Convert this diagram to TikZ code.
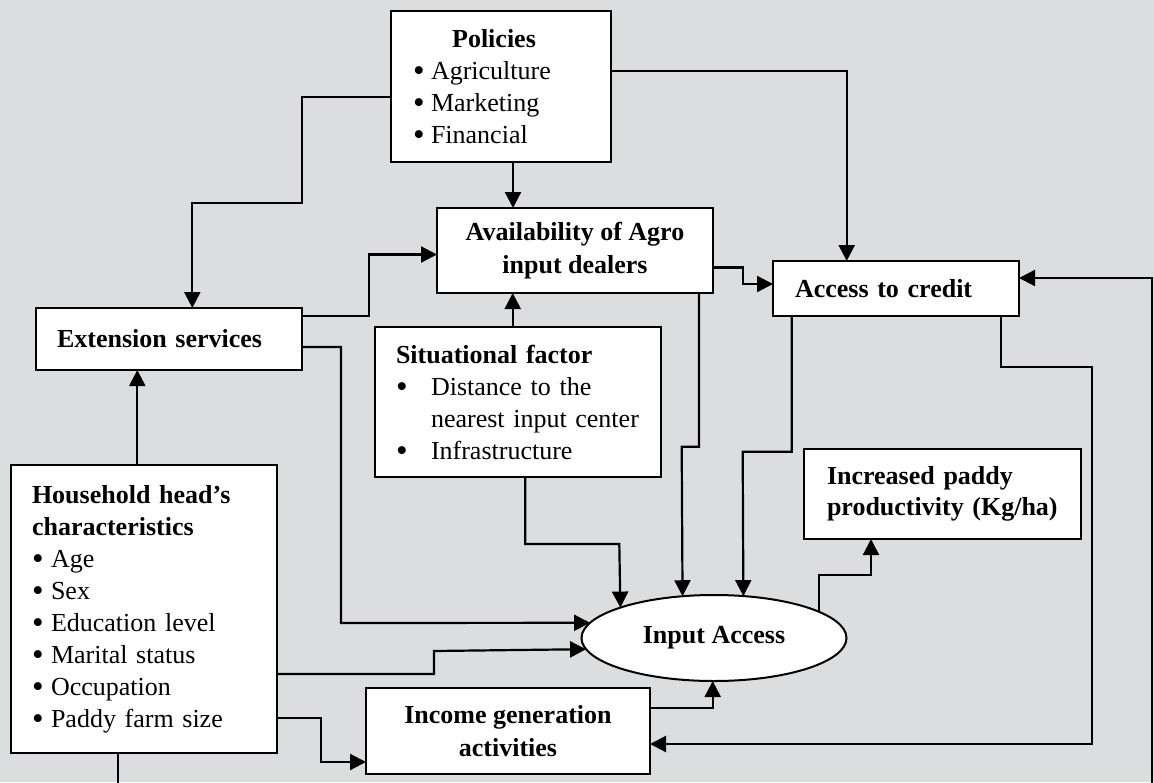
\documentclass[tikz,border=0pt]{standalone}
\usepackage{fontspec}
\setmainfont{Liberation Serif}
\usetikzlibrary{arrows.meta,shapes.geometric}
\definecolor{bg}{RGB}{220,221,223}
\newcommand{\bigbul}{\smash{\raisebox{-2.5pt}{\fontsize{33}{32}\selectfont\textbullet}}}
\tikzset{
 box/.style={draw=black, fill=white, line width=2pt, outer sep=0pt, inner ysep=0pt, font=\fontsize{26}{32}\selectfont},
 lbox/.style={box, align=left},
 cbox/.style={box, align=center, font=\fontsize{26}{33}\selectfont\bfseries},
 conn/.style={line width=2.2pt, -{Triangle[width=16pt,length=16pt]}},
}
\begin{document}
\begin{tikzpicture}[x=1pt,y=-1pt]
\useasboundingbox (0,0) rectangle (1154,782);
\clip (0,0) rectangle (1154,782);
\fill[bg] (0,0) rectangle (1154,782);

% nodes
\node[lbox, minimum width=220pt, minimum height=151pt, inner xsep=22pt, text width=176pt] (pol) at (501,86.5)
 {\makebox[162pt]{\textbf{Policies}}\\
  \makebox[18pt][l]{\bigbul}Agriculture\\
  \makebox[18pt][l]{\bigbul}Marketing\\
  \makebox[18pt][l]{\bigbul}Financial};

\node[cbox, minimum width=276pt, minimum height=85pt, inner xsep=4pt] (avail) at (575,250.5)
 {Availability of Agro\\input dealers};

\node[lbox, minimum width=246pt, minimum height=55pt, inner xsep=22pt, text width=202pt] (credit) at (896,288.5)
 {\textbf{Access to credit}};

\node[lbox, minimum width=266pt, minimum height=62pt, inner xsep=21pt, text width=224pt] (ext) at (169,339)
 {\textbf{Extension services}};

\node[lbox, minimum width=286pt, minimum height=150pt, inner xsep=21pt, text width=244pt] (sit) at (518,402)
 {\textbf{Situational factor}\\
  \mbox{\makebox[35pt][l]{\bigbul}Distance to the}\\
  \mbox{\hspace*{35pt}nearest input center}\\
  \mbox{\makebox[35pt][l]{\bigbul}Infrastructure}};

\node[lbox, minimum width=266pt, minimum height=288pt, inner xsep=21pt, text width=224pt] (hh) at (144,609)
 {\mbox{\textbf{Household head’s}}\\
  \textbf{characteristics}\\
  \makebox[19pt][l]{\bigbul}Age\\
  \makebox[19pt][l]{\bigbul}Sex\\
  \mbox{\makebox[19pt][l]{\bigbul}Education level}\\
  \mbox{\makebox[19pt][l]{\bigbul}Marital status}\\
  \mbox{\makebox[19pt][l]{\bigbul}Occupation}\\
  \mbox{\makebox[19pt][l]{\bigbul}Paddy farm size}};

\node[lbox, minimum width=277pt, minimum height=90pt, inner xsep=23pt, text width=231pt, font=\fontsize{26}{31}\selectfont\bfseries] (incp) at (942.5,494)
 {\mbox{Increased paddy}\\\mbox{productivity (Kg/ha)}};

\node[ellipse, draw=black, fill=white, line width=2pt, outer sep=0pt, inner sep=0pt,
 minimum width=265pt, minimum height=86pt, font=\fontsize{26}{32}\selectfont\bfseries] (ia) at (714,638)
 {Input Access};

\node[cbox, minimum width=284pt, minimum height=86pt, inner xsep=4pt] (inc) at (508,731)
 {Income generation\\activities};

% connectors
\draw[conn] ([xshift=12pt]pol.south) -- ([xshift=12pt]pol.south |- avail.north);
\draw[conn] ([yshift=15.5pt]pol.east) -| ([xshift=-49.3pt]credit.north);
\draw[conn] ([yshift=-10.5pt]pol.west) -| (301.7,202.7) -| ([xshift=23.3pt]ext.north);
\draw[conn] ([yshift=23pt]ext.east) -| (369,254.5) -- ([yshift=-4pt]avail.west);
\draw[conn] ([yshift=-8pt]ext.east) -| (341,623) -- (ia.173.1);
\draw[conn] ([xshift=-6.7pt]hh.north) -- ([xshift=-6.7pt]hh.north |- ext.south);
\draw[conn] ([yshift=-65pt]hh.east) -| (434,651) -- (ia.185.9);
\draw[conn] ([yshift=-109pt]hh.east) -| (320.7,762) -- ([yshift=-31pt]inc.west);
\draw[conn] ([xshift=-26pt]hh.south) -- (118,800) -| (1152,278) -- ([yshift=10.5pt]credit.east);
\draw[conn] ([yshift=-17pt]avail.east) -| (743.3,284) -- ([yshift=4.5pt]credit.west);
\draw[conn] ([xshift=124pt]avail.south) |- (681.7,446.7) -- (ia.127.8);
\draw[conn] ([xshift=-104.3pt]credit.south) |- (742.7,451.7) -- (ia.55.65);
\draw[conn] ([xshift=7.3pt]sit.south) |- (619.3,544) -- (ia.162.4);
\draw[conn] ([xshift=-5.3pt]sit.north) -- ([xshift=-5.3pt]sit.north |- avail.south);
\draw[conn] ([xshift=105.3pt]credit.south) |- (1092,367.3) |- ([yshift=-13pt]inc.east);
\draw[conn] ([yshift=23pt]inc.east) -| ([xshift=-1.3pt]ia.south);
\draw[conn] (ia.14) |- (871,575) -- ([xshift=-71.5pt]incp.south);
\end{tikzpicture}
\end{document}
